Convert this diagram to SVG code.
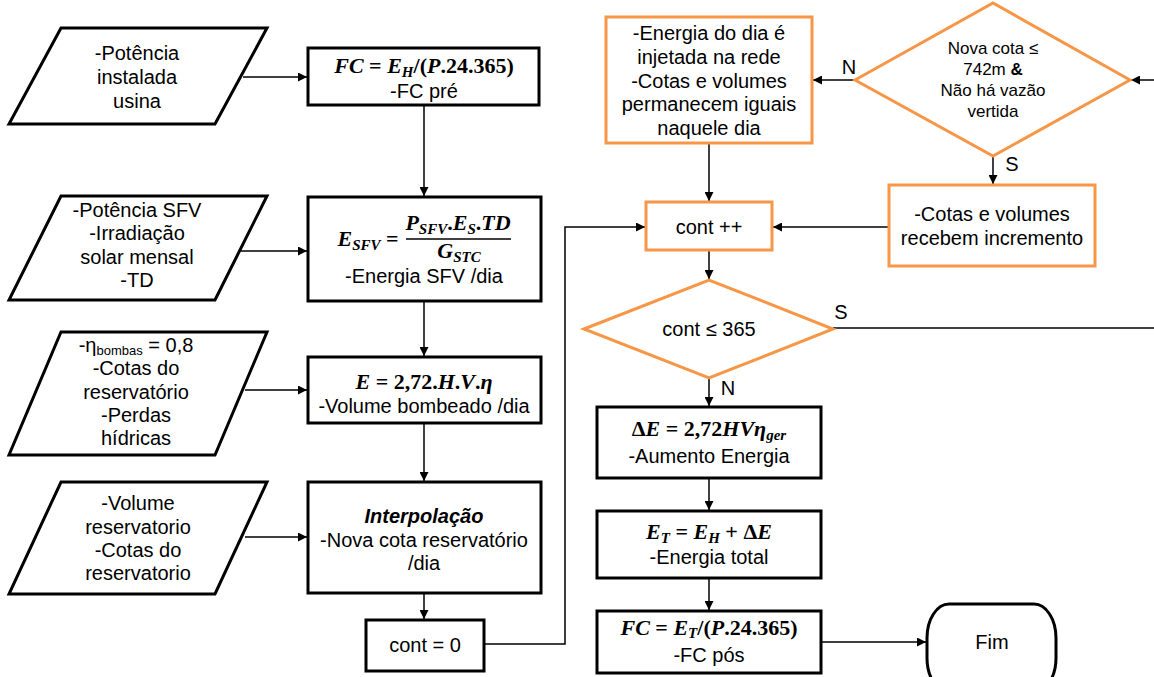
<svg xmlns="http://www.w3.org/2000/svg" width="1154" height="677" viewBox="0 0 1154 677">
<defs>
<style>
.box{fill:#fff;stroke:#000;stroke-width:3}
.obox{fill:#fff;stroke:#F79646;stroke-width:3}
.t{font-family:"Liberation Sans",Arial,sans-serif;font-size:20px;fill:#000;text-anchor:middle}
.d{font-family:"Liberation Sans",Arial,sans-serif;font-size:17px;fill:#000;text-anchor:middle}
.m{font-family:"Liberation Serif","Times New Roman",serif;font-size:22px;font-weight:bold;font-style:italic;fill:#000;text-anchor:middle}
.u{font-style:normal}
.s{font-size:15px}
.c{stroke:#000;stroke-width:1.5;fill:none}
</style>
<marker id="ah" viewBox="0 0 10 10" refX="10" refY="5" markerWidth="10" markerHeight="9" markerUnits="userSpaceOnUse" orient="auto"><path d="M0,0 L10,5 L0,10 z" fill="#000"/></marker>
</defs>
<rect width="1154" height="677" fill="#fff"/>

<g id="connectors">
<path class="c" d="M243,77 H307" marker-end="url(#ah)"/>
<path class="c" d="M424,105 V196" marker-end="url(#ah)"/>
<path class="c" d="M241,251 H307" marker-end="url(#ah)"/>
<path class="c" d="M424,301 V356" marker-end="url(#ah)"/>
<path class="c" d="M245,390 H307" marker-end="url(#ah)"/>
<path class="c" d="M424,423 V481" marker-end="url(#ah)"/>
<path class="c" d="M245,537 H307" marker-end="url(#ah)"/>
<path class="c" d="M424,593 V619" marker-end="url(#ah)"/>
<path class="c" d="M484,644 H565 V227 H645" marker-end="url(#ah)"/>
<path class="c" d="M1154,80 H1131" marker-end="url(#ah)"/>
<path class="c" d="M855,80 H813" marker-end="url(#ah)"/>
<path class="c" d="M993,156 V184" marker-end="url(#ah)"/>
<path class="c" d="M889,227 H773" marker-end="url(#ah)"/>
<path class="c" d="M709,143 V201" marker-end="url(#ah)"/>
<path class="c" d="M709,250 V279" marker-end="url(#ah)"/>
<path d="M833,328 H1154" stroke="#404040" stroke-width="2" fill="none"/>
<path class="c" d="M709,378 V406" marker-end="url(#ah)"/>
<path class="c" d="M709,478 V510" marker-end="url(#ah)"/>
<path class="c" d="M709,578 V610" marker-end="url(#ah)"/>
<path class="c" d="M821,642 H926" marker-end="url(#ah)"/>
<text class="t" x="849" y="74" font-size="19">N</text>
<text class="t" x="1012" y="171" font-size="19">S</text>
<text class="t" x="841" y="319" font-size="19">S</text>
<text class="t" x="728" y="395" font-size="19">N</text>
</g>

<g id="in1">
<polygon class="box" points="61,28 267,28 215,124 9,124"/>
<text class="t" x="137"><tspan x="137" y="60">-Potência</tspan><tspan x="137" y="84">instalada</tspan><tspan x="137" y="108">usina</tspan></text>
</g>
<g id="fc-pre">
<rect class="box" x="308" y="48" width="231" height="57"/>
<text class="m" x="424" y="73">FC<tspan class="u"> = </tspan>E<tspan class="s" dy="4">H</tspan><tspan class="u" dy="-4">/(</tspan>P<tspan class="u">.24.365)</tspan></text>
<text class="t" x="424" y="98">-FC pré</text>
</g>

<g id="in2">
<polygon class="box" points="61,196 267,196 215,300 9,300"/>
<text class="t"><tspan x="137" y="217">-Potência SFV</tspan><tspan x="137" y="240">-Irradiação</tspan><tspan x="137" y="264">solar mensal</tspan><tspan x="137" y="287">-TD</tspan></text>
</g>
<g id="esfv">
<rect class="box" x="308" y="197" width="233" height="104"/>
<text class="m" x="368" y="246">E<tspan class="s" dy="4">SFV</tspan><tspan class="u" dy="-4"> =</tspan></text>
<text class="m" x="458" y="230">P<tspan class="s" dy="4">SFV</tspan><tspan class="u" dy="-4">.</tspan>E<tspan class="s" dy="4">S</tspan><tspan class="u" dy="-4">.</tspan>TD</text>
<line x1="406" y1="239" x2="511" y2="239" stroke="#000" stroke-width="1.5"/>
<text class="m" x="459" y="258">G<tspan class="s" dy="4">STC</tspan></text>
<text class="t" x="424" y="283">-Energia SFV /dia</text>
</g>

<g id="in3">
<polygon class="box" points="61,332 267,332 215,455 9,455"/>
<text class="t"><tspan x="136" y="352">-η<tspan font-size="13" dy="3">bombas</tspan><tspan dy="-3"> = 0,8</tspan></tspan><tspan x="136" y="375">-Cotas do</tspan><tspan x="136" y="399">reservatório</tspan><tspan x="136" y="422">-Perdas</tspan><tspan x="136" y="445">hídricas</tspan></text>
</g>
<g id="bomb">
<rect class="box" x="308" y="357" width="233" height="66"/>
<text class="m" x="424" y="389">E<tspan class="u"> = 2,72.</tspan>H<tspan class="u">.</tspan>V<tspan class="u">.</tspan>η</text>
<text class="t" x="424" y="413">-Volume bombeado /dia</text>
</g>

<g id="in4">
<polygon class="box" points="61,482 267,482 215,594 9,594"/>
<text class="t"><tspan x="138" y="510">-Volume</tspan><tspan x="138" y="534">reservatorio</tspan><tspan x="138" y="557">-Cotas do</tspan><tspan x="138" y="580">reservatorio</tspan></text>
</g>
<g id="interp">
<rect class="box" x="308" y="482" width="233" height="111"/>
<text class="t" x="424" y="523" font-weight="bold" font-style="italic">Interpolação</text>
<text class="t" x="424" y="547">-Nova cota reservatório</text>
<text class="t" x="424" y="570">/dia</text>
</g>
<g id="cont0">
<rect class="box" x="366" y="620" width="118" height="51"/>
<text class="t" x="425" y="652">cont = 0</text>
</g>

<g id="injeta">
<rect class="obox" x="606" y="17" width="206" height="126"/>
<text class="t"><tspan x="709" y="40">-Energia do dia é</tspan><tspan x="709" y="64">injetada na rede</tspan><tspan x="709" y="88">-Cotas e volumes</tspan><tspan x="709" y="111">permanecem iguais</tspan><tspan x="709" y="135">naquele dia</tspan></text>
</g>
<g id="dec-cota">
<polygon class="obox" points="855,80 993,3 1130,80 993,156"/>
<text class="d"><tspan x="993" y="54">Nova cota ≤</tspan><tspan x="993" y="75">742m <tspan font-weight="bold">&amp;</tspan></tspan><tspan x="993" y="96">Não há vazão</tspan><tspan x="993" y="117">vertida</tspan></text>
</g>
<g id="incr">
<rect class="obox" x="889" y="185" width="206" height="81"/>
<text class="t"><tspan x="992" y="221">-Cotas e volumes</tspan><tspan x="992" y="245">recebem incremento</tspan></text>
</g>
<g id="contpp">
<rect class="obox" x="646" y="202" width="126" height="48"/>
<text class="t" x="709" y="234">cont ++</text>
</g>
<g id="dec-cont">
<polygon class="obox" points="584,329 709,280 833,329 709,378"/>
<text class="t" x="709" y="336">cont ≤ 365</text>
</g>
<g id="deltaE">
<rect class="box" x="597" y="407" width="224" height="71"/>
<text class="m" x="709" y="436"><tspan class="u">Δ</tspan>E<tspan class="u"> = 2,72</tspan>HVη<tspan class="s" dy="4">ger</tspan></text>
<text class="t" x="709" y="463">-Aumento Energia</text>
</g>
<g id="etotal">
<rect class="box" x="597" y="511" width="224" height="67"/>
<text class="m" x="709" y="539">E<tspan class="s" dy="4">T</tspan><tspan class="u" dy="-4"> = </tspan>E<tspan class="s" dy="4">H</tspan><tspan class="u" dy="-4"> + Δ</tspan>E</text>
<text class="t" x="709" y="564">-Energia total</text>
</g>
<g id="fc-pos">
<rect class="box" x="597" y="611" width="224" height="62"/>
<text class="m" x="709" y="635">FC<tspan class="u"> = </tspan>E<tspan class="s" dy="3">T</tspan><tspan class="u" dy="-3">/(</tspan>P<tspan class="u">.24.365)</tspan></text>
<text class="t" x="709" y="662">-FC pós</text>
</g>
<g id="fim">
<rect class="box" x="927" y="604" width="129" height="88" rx="22" ry="34"/>
<text class="t" x="992" y="649">Fim</text>
</g>
</svg>
